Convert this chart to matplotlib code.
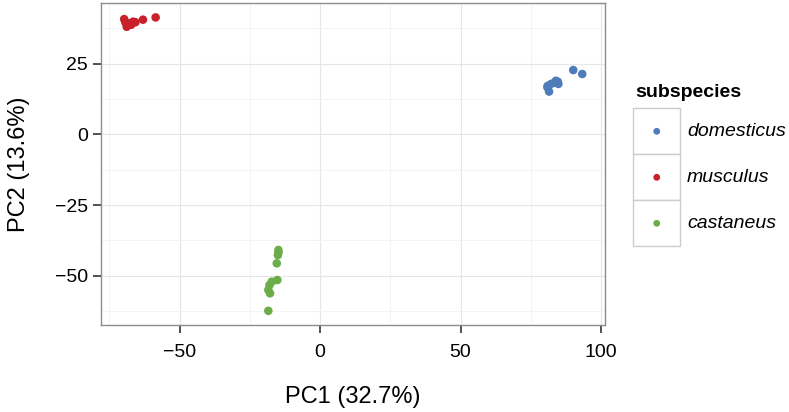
import matplotlib
matplotlib.use("Agg")
import matplotlib.pyplot as plt
from matplotlib.patches import Rectangle
from matplotlib.ticker import MultipleLocator

# ---------------- data ----------------
subspecies = ["domesticus", "musculus", "castaneus"]
colors = ["#4E7CBA", "#C9212A", "#6BAD48"]

domesticus_pc1 = [81.0, 81.5, 82.2, 83.4, 84.6, 84.8, 83.9, 80.9, 90.1, 93.3]
domesticus_pc2 = [17.1, 15.1, 17.8, 18.2, 18.6, 17.8, 18.9, 16.6, 22.7, 21.3]

musculus_pc1 = [-69.7, -69.3, -68.5, -67.7, -66.5, -65.7, -63.0, -58.5, -68.8, -67.2]
musculus_pc2 = [40.7, 39.6, 38.4, 39.2, 39.8, 39.6, 40.5, 41.3, 38.0, 38.7]

castaneus_pc1 = [-14.8, -14.8, -15.0, -15.4, -15.2, -17.2, -18.0, -18.4, -17.8, -18.4]
castaneus_pc2 = [-40.9, -41.8, -42.7, -45.6, -51.5, -52.1, -53.3, -55.0, -56.2, -62.4]

x_ticks = [-50, 0, 50, 100]
y_ticks = [-50, -25, 0, 25]
x_label = "PC1 (32.7%)"
y_label = "PC2 (13.6%)"
legend_title = "subspecies"

# ---------------- figure ----------------
W, H, DPI = 789, 412, 100
plt.rcParams['font.family'] = ['Liberation Sans', 'DejaVu Sans']

fig = plt.figure(figsize=(W / DPI, H / DPI), dpi=DPI)
L, R, T, B = 101.4, 605, 2.7, 325
ax = fig.add_axes([L / W, 1 - B / H, (R - L) / W, (B - T) / H])

series = [(domesticus_pc1, domesticus_pc2),
          (musculus_pc1, musculus_pc2),
          (castaneus_pc1, castaneus_pc2)]
for (xs, ys), c in zip(series, colors):
    ax.scatter(xs, ys, s=38, color=c, edgecolors='none', zorder=3)

ax.set_xlim(-77.8, 101.4)
ax.set_ylim(-67.4, 46.5)
ax.set_xticks(x_ticks)
ax.set_yticks(y_ticks)
ax.set_xticklabels([str(v).replace('-', '\u2212') for v in x_ticks])
ax.set_yticklabels([str(v).replace('-', '\u2212') for v in y_ticks])
ax.xaxis.set_minor_locator(MultipleLocator(25))
ax.yaxis.set_minor_locator(MultipleLocator(12.5))

ax.grid(which='major', color='#E6E6E6', linewidth=0.8, zorder=0)
ax.grid(which='minor', color='#F3F3F3', linewidth=0.7, zorder=0)
ax.set_axisbelow(True)
ax.tick_params(which='minor', length=0)
ax.tick_params(which='major', direction='out', length=5.8, width=1.2,
               color='#333333', labelsize=14, labelcolor='black')
ax.tick_params(axis='x', which='major', pad=8)
ax.tick_params(axis='y', which='major', pad=4)
for sp in ax.spines.values():
    sp.set_color('#8C8C8C')
    sp.set_linewidth(1.0)

# axis titles
fig.text((L + R) / 2 / W, 1 - 396.5 / H, x_label, ha='center', va='center', fontsize=17)
fig.text(19 / W, 1 - (T + B) / 2 / H, y_label, ha='center', va='center',
         rotation=90, fontsize=17)

# ---------------- legend ----------------
lg = fig.add_axes([0, 0, 1, 1], facecolor='none')
lg.set_xlim(0, W)
lg.set_ylim(H, 0)
lg.axis('off')
lg.text(635, 92, legend_title, fontsize=14, fontweight='bold', ha='left', va='center')
key_x, key_w, key_top, key_h = 633.5, 46.5, 108.3, 46
for i, (name, c) in enumerate(zip(subspecies, colors)):
    y0 = key_top + i * key_h
    lg.add_patch(Rectangle((key_x, y0), key_w, key_h, facecolor='white',
                           edgecolor='#CCCCCC', linewidth=1.0))
    lg.scatter([key_x + key_w / 2], [y0 + key_h / 2], s=24, color=c, edgecolors='none', zorder=3)
    lg.text(687, y0 + key_h / 2, name, fontsize=14, fontstyle='italic',
            ha='left', va='center')

fig.savefig("out.png", dpi=DPI)
